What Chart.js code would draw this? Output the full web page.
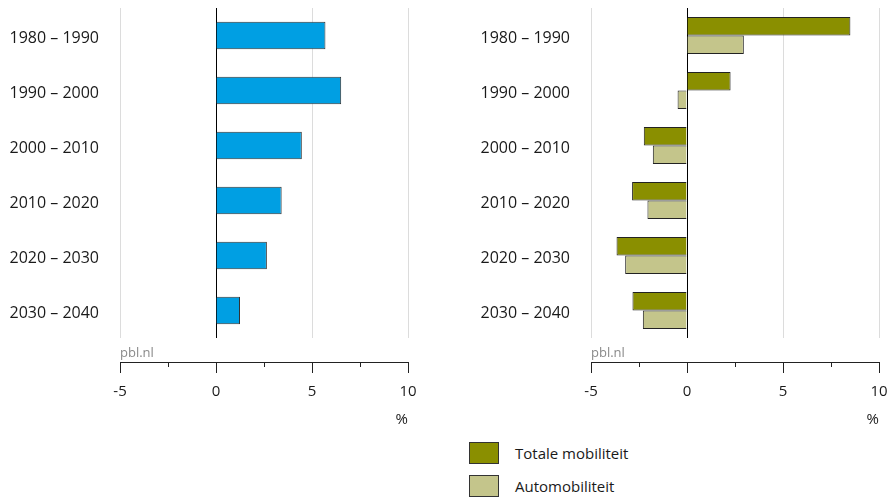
<!DOCTYPE html>
<html>
<head>
<meta charset="utf-8">
<script src="https://cdn.jsdelivr.net/npm/chart.js@4"></script>
<style>
  body { margin: 0; background: #fff; font-family: "Open Sans", sans-serif; }
  #wrap { position: relative; width: 888px; height: 497px; }
  .pane { position: absolute; top: 0; width: 444px; height: 432px; }
  #legend { position: absolute; left: 469px; top: 442px; font-size: 15px; color: #1a1a1a; }
  .item { display: flex; align-items: center; height: 22px; margin-bottom: 11px; }
  .box { width: 28px; height: 20px; border: 1px solid #333; margin-right: 16px; }
</style>
</head>
<body>
<div id="wrap">
  <div class="pane" style="left:0"><canvas id="left" width="444" height="432"></canvas></div>
  <div class="pane" style="left:444px"><canvas id="right" width="444" height="432"></canvas></div>
  <div id="legend"></div>
</div>
<script>
const categories = ['1980 – 1990', '1990 – 2000', '2000 – 2010', '2010 – 2020', '2020 – 2030', '2030 – 2040'];
const leftValues = [5.7, 6.52, 4.47, 3.42, 2.65, 1.25];
const totaleValues = [8.51, 2.27, -2.25, -2.86, -3.67, -2.84];
const autoValues = [2.96, -0.49, -1.78, -2.06, -3.22, -2.30];
const xMin = -5, xMax = 10, xStep = 2.5;

const FONT = '"Open Sans", sans-serif';

// axis drawn a little below the plot, with the pbl.nl mark in between
const lowAxis = {
  id: 'lowAxis',
  afterDraw(chart) {
    const c = chart.ctx, x = chart.scales.x, area = chart.chartArea;
    const y = area.bottom + 24;
    c.save();
    c.strokeStyle = '#222';
    c.lineWidth = 1;
    c.beginPath();
    c.moveTo(x.getPixelForValue(xMin), y + 0.5);
    c.lineTo(x.getPixelForValue(xMax), y + 0.5);
    x.ticks.forEach(t => {
      const px = Math.round(x.getPixelForValue(t.value)) + 0.5;
      const len = t.value % 5 === 0 ? 11 : 5;
      c.moveTo(px, y);
      c.lineTo(px, y + len);
    });
    c.stroke();
    c.fillStyle = '#8a8a8a';
    c.font = '13px ' + FONT;
    c.textBaseline = 'alphabetic';
    c.fillText('pbl.nl', x.getPixelForValue(xMin), area.bottom + 19);
    c.restore();
  }
};

function makeOptions(yWidth, padRight) {
  return {
    indexAxis: 'y',
    responsive: false,
    animation: false,
    devicePixelRatio: 1,
    layout: { padding: { top: 8, right: padRight, bottom: 0, left: 0 } },
    plugins: { legend: { display: false }, tooltip: { enabled: false } },
    scales: {
      x: {
        type: 'linear',
        min: xMin, max: xMax,
        afterFit(s) { s.height = 94; s.paddingLeft = 0; s.paddingRight = 0; },
        afterBuildTicks(s) {
          const t = [];
          for (let v = xMin; v <= xMax; v += xStep) t.push({ value: v });
          s.ticks = t;
        },
        border: { display: false },
        grid: {
          drawTicks: false,
          lineWidth: 1,
          color: ctx => ctx.tick.value === 0 ? '#000' : (ctx.tick.value % 5 === 0 ? '#dcdcdc' : 'rgba(0,0,0,0)')
        },
        ticks: {
          autoSkip: false,
          maxRotation: 0,
          padding: 45,
          color: '#1a1a1a',
          font: { family: FONT, size: 15 },
          callback: v => v % 5 === 0 ? String(v) : ''
        },
        title: {
          display: true, text: '%', align: 'end', color: '#1a1a1a',
          font: { family: FONT, size: 15 }, padding: { top: 0, bottom: 3 }
        }
      },
      y: {
        afterFit(s) { s.width = yWidth; s.paddingTop = 0; s.paddingBottom = 0; },
        grid: { display: false },
        border: { display: false },
        ticks: { padding: 13, labelOffset: 3, color: '#1a1a1a', font: { family: FONT, size: 16 } }
      }
    }
  };
}

new Chart(document.getElementById('left'), {
  type: 'bar',
  data: {
    labels: categories,
    datasets: [{
      label: 'Mobiliteit',
      data: leftValues,
      backgroundColor: '#009fe3',
      borderColor: '#333',
      borderWidth: 1,
      categoryPercentage: 0.5,
      barPercentage: 1
    }]
  },
  options: makeOptions(120, 36),
  plugins: [lowAxis]
});

const rightSets = [
  { label: 'Totale mobiliteit', data: totaleValues, color: '#8a8f00' },
  { label: 'Automobiliteit', data: autoValues, color: '#c4c58b' }
];

new Chart(document.getElementById('right'), {
  type: 'bar',
  data: {
    labels: categories,
    datasets: rightSets.map(s => ({
      label: s.label,
      data: s.data,
      backgroundColor: s.color,
      borderColor: '#222',
      borderWidth: 1,
      categoryPercentage: 0.67,
      barPercentage: 1
    }))
  },
  options: makeOptions(147, 9),
  plugins: [lowAxis]
});

const legend = document.getElementById('legend');
rightSets.forEach(s => {
  const d = document.createElement('div');
  d.className = 'item';
  d.innerHTML = '<span class="box" style="background:' + s.color + '"></span><span>' + s.label + '</span>';
  legend.appendChild(d);
});
</script>
</body>
</html>
